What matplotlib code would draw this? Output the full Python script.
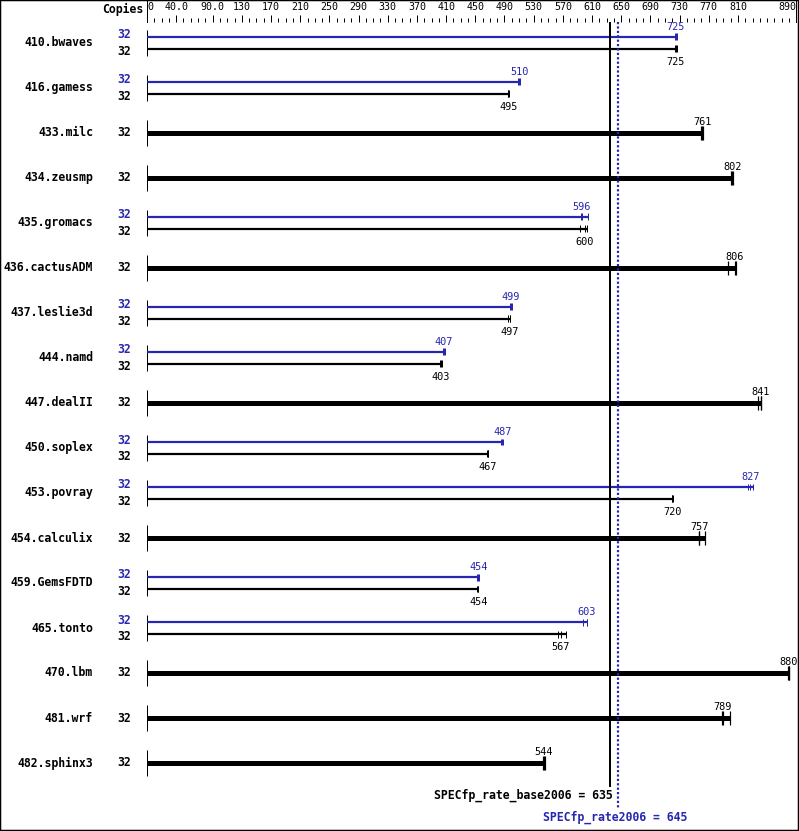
import matplotlib
matplotlib.use('Agg')
import matplotlib.pyplot as plt
from matplotlib.patches import Rectangle
from matplotlib.transforms import blended_transform_factory

benchmarks = ['410.bwaves', '416.gamess', '433.milc', '434.zeusmp', '435.gromacs',
              '436.cactusADM', '437.leslie3d', '444.namd', '447.dealII', '450.soplex',
              '453.povray', '454.calculix', '459.GemsFDTD', '465.tonto', '470.lbm',
              '481.wrf', '482.sphinx3']
copies_base = [32] * 17
copies_peak = [32, 32, None, None, 32, None, 32, 32, None, 32, 32, None, 32, 32, None, None, None]
base_median = [725, 495, 761, 802, 600, 806, 497, 403, 841, 467, 720, 757, 454, 567, 880, 789, 544]
peak_median = [725, 510, None, None, 596, None, 499, 407, None, 487, 827, None, 454, 603, None, None, None]
base_runs = [[724, 725, 726], [495, 495, 496], [760, 761, 762], [801, 802, 803],
             [593, 600, 603], [797, 806, 808], [495, 497, 498], [402, 403, 404],
             [837, 841, 842], [466, 467, 467], [719, 720, 721], [756, 757, 765],
             [453, 454, 454], [563, 567, 575], [879, 880, 880], [788, 789, 799],
             [543, 544, 545]]
peak_runs = [[724, 725, 726], [509, 510, 511], None, None, [595, 596, 605], None,
             [498, 499, 500], [406, 407, 408], None, [485, 487, 488], [824, 827, 830],
             None, [453, 454, 455], [598, 603, 603], None, None, None]
tick_values = [0, 40, 90, 130, 170, 210, 250, 290, 330, 370, 410, 450, 490, 530,
               570, 610, 650, 690, 730, 770, 810, 890]
tick_labels = ['0', '40.0', '90.0', '130', '170', '210', '250', '290', '330', '370',
               '410', '450', '490', '530', '570', '610', '650', '690', '730', '770',
               '810', '890']
base_score = 635
peak_score = 645
xmax = 890

BLUE = '#2626b0'
FONT = 'DejaVu Sans Mono'
W, H = 799, 831
PX = 72.0 / 100  # points per pixel

fig = plt.figure(figsize=(W / 100, H / 100), dpi=100)
ax_left, ax_right = 147, 796.3
ax_top, ax_bot = 22, 830
ax = fig.add_axes([ax_left / W, 1 - ax_bot / H, (ax_right - ax_left) / W, (ax_bot - ax_top) / H])
row0, rowh = 43, 45
ax.set_xlim(0, xmax)
ax.set_ylim((ax_bot - row0) / rowh, (ax_top - row0) / rowh)
for s in ax.spines.values():
    s.set_visible(False)
ax.set_yticks([])
ax.patch.set_alpha(0)

# top axis ticks
ax.xaxis.tick_top()
ax.set_xticks(tick_values)
ax.set_xticklabels(tick_labels, fontfamily=FONT, fontsize=7.2)
minor = [v for v in range(0, xmax + 1, 10) if v not in tick_values]
ax.set_xticks(minor, minor=True)
ax.tick_params(axis='x', which='major', direction='out', length=7 * PX, width=1 * PX, pad=3 * PX)
ax.tick_params(axis='x', which='minor', direction='out', length=4 * PX, width=1 * PX)
lbls = ax.get_xticklabels()
lbls[0].set_ha('left')
lbls[-1].set_ha('right')
xt = ax.get_xaxis_transform()
for v in (0, xmax):
    ax.plot([v, v], [1, 1 + ax_top / (ax_bot - ax_top)], color='black', lw=1 * PX,
            transform=xt, clip_on=False)

ftrans = blended_transform_factory(fig.transFigure, ax.transData)
fig.text(143 / W, 1 - 9 / H, 'Copies', ha='right', va='center', fontfamily=FONT,
         fontsize=8.3, fontweight='bold')

off = 6 / rowh
for i, name in enumerate(benchmarks):
    ax.text(93 / W, i, name, transform=ftrans, ha='right', va='center',
            fontfamily=FONT, fontsize=8.3, fontweight='bold')
    ax.vlines(0, i - 13 / rowh, i + 13 / rowh, color='black', lw=1 * PX)
    if peak_median[i] is not None:
        yb, yp = i + off, i - off
        # peak bar (blue)
        ax.hlines(yp, 0, max(peak_runs[i]), color=BLUE, lw=2.2 * PX)
        ax.vlines(peak_runs[i], yp - 3.5 / rowh, yp + 3.5 / rowh, color=BLUE, lw=1 * PX)
        ax.text(peak_median[i], yp - 10 / rowh, str(peak_median[i]), color=BLUE,
                ha='center', va='center', fontfamily=FONT, fontsize=7.4)
        ax.text(131 / W, yp - 2 / rowh, str(copies_peak[i]), transform=ftrans, ha='right',
                va='center', color=BLUE, fontfamily=FONT, fontsize=8.3, fontweight='bold')
        # base bar (black)
        ax.hlines(yb, 0, max(base_runs[i]), color='black', lw=2.2 * PX)
        ax.vlines(base_runs[i], yb - 3.5 / rowh, yb + 3.5 / rowh, color='black', lw=1 * PX)
        ax.text(base_median[i], yb + 13 / rowh, str(base_median[i]), color='black',
                ha='center', va='center', fontfamily=FONT, fontsize=7.4)
        ax.text(131 / W, yb + 3 / rowh, str(copies_base[i]), transform=ftrans, ha='right',
                va='center', color='black', fontfamily=FONT, fontsize=8.3, fontweight='bold')
    else:
        ax.hlines(i, 0, max(base_runs[i]), color='black', lw=5 * PX)
        ax.vlines(base_runs[i], i - 7 / rowh, i + 7 / rowh, color='black', lw=1.2 * PX)
        ax.text(base_median[i], i - 11 / rowh, str(base_median[i]), color='black',
                ha='center', va='center', fontfamily=FONT, fontsize=7.4)
        ax.text(131 / W, i, str(copies_base[i]), transform=ftrans, ha='right',
                va='center', color='black', fontfamily=FONT, fontsize=8.3, fontweight='bold')

ytop = (ax_top - row0) / rowh
ax.vlines(base_score, ytop, (787 - row0) / rowh, color='black', lw=2 * PX)
ax.vlines(peak_score, ytop, (808 - row0) / rowh, color=BLUE, lw=2.2 * PX,
          linestyles=[(0, (1, 1))])
ax.text(base_score + 2 / 0.7295, (795 - row0) / rowh, 'SPECfp_rate_base2006 = %d' % base_score,
        ha='right', va='center', fontfamily=FONT, fontsize=8.3, fontweight='bold', color='black')
ax.text(peak_score - 2 / 0.7295, (817 - row0) / rowh, 'SPECfp_rate2006 = %d' % peak_score,
        ha='center', va='center', fontfamily=FONT, fontsize=8.3, fontweight='bold', color=BLUE)

fig.patches.append(Rectangle((0, 0), 1, 1, transform=fig.transFigure, fill=False,
                             edgecolor='black', lw=2.5 * PX))
fig.savefig('out.png', dpi=100)
